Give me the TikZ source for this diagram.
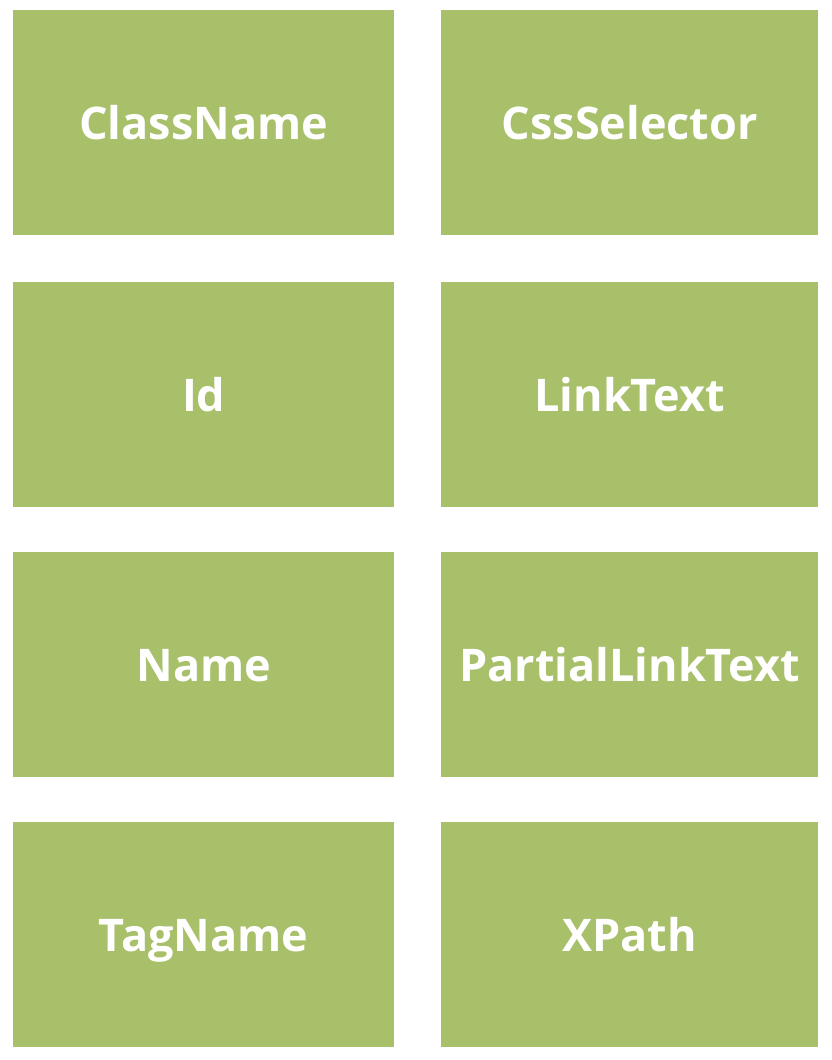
\documentclass[tikz,border=0pt]{standalone}
\usepackage{fontspec}
\setmainfont{Open Sans}
\definecolor{boxgreen}{HTML}{A8C06A}
\begin{document}
\begin{tikzpicture}[x=1pt,y=1pt,
  cell/.style={fill=boxgreen,draw=none,minimum width=381pt,minimum height=225pt,inner sep=0pt,
    text=white,font=\fontsize{45}{54}\selectfont\bfseries,text height=33pt,text depth=0pt,anchor=north west},
  rcell/.style={cell,minimum width=377pt}]
\useasboundingbox[fill=white] (0,0) rectangle (832,1060);
\node[cell] (classname) at (13,1050) {ClassName};
\node[rcell] (css) at (441,1050) {CssSelector};
\node[cell] (id) at (13,778) {Id};
\node[rcell] (link) at (441,778) {LinkText};
\node[cell] (name) at (13,508) {Name};
\node[rcell] (partial) at (441,508) {PartialLinkText};
\node[cell] (tag) at (13,238) {TagName};
\node[rcell] (xpath) at (441,238) {XPath};
\end{tikzpicture}
\end{document}
